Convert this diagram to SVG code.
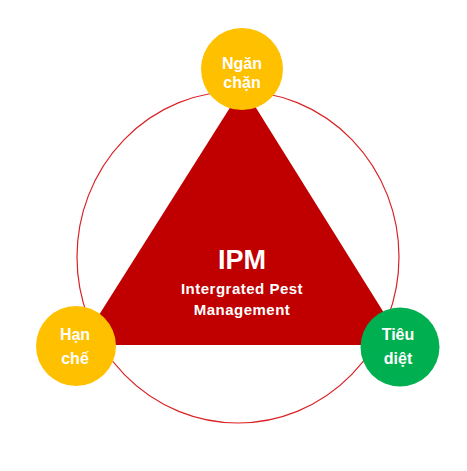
<svg xmlns="http://www.w3.org/2000/svg" width="467" height="471" viewBox="0 0 467 471">
<style>
.lbl{font-family:"Liberation Sans","Noto Sans",Arial,sans-serif;font-weight:bold;fill:#ffffff;text-anchor:middle;font-size:16px}
.ctr{font-family:"Liberation Sans","Noto Sans",Arial,sans-serif;font-weight:bold;fill:#ffffff;text-anchor:middle}
</style>
<rect width="467" height="471" fill="#ffffff"/>
<g id="connectors">
<ellipse cx="238" cy="257" rx="161" ry="166" fill="none" stroke="#D92226" stroke-width="1.2"/>
</g>
<g id="ipm">
<polygon points="243,87 80,345 404,345" fill="#C00000"/>
<text class="ctr" x="242" y="269" font-size="27">IPM</text>
<text class="ctr" x="242" y="294" font-size="15" letter-spacing="0.5">Intergrated Pest</text>
<text class="ctr" x="242" y="315" font-size="15" letter-spacing="0.5">Management</text>
</g>
<g id="ngan-chan">
<circle cx="242" cy="69" r="41" fill="#FFC000"/>
<text class="lbl" x="242" y="69">Ngăn</text>
<text class="lbl" x="242" y="88">chặn</text>
</g>
<g id="han-che">
<circle cx="76" cy="346" r="40" fill="#FFC000"/>
<text class="lbl" x="75" y="340">Hạn</text>
<text class="lbl" x="75" y="364">chế</text>
</g>
<g id="tieu-diet">
<circle cx="400" cy="347" r="39.5" fill="#00B050"/>
<text class="lbl" x="398" y="340">Tiêu</text>
<text class="lbl" x="398" y="364">diệt</text>
</g>
</svg>
